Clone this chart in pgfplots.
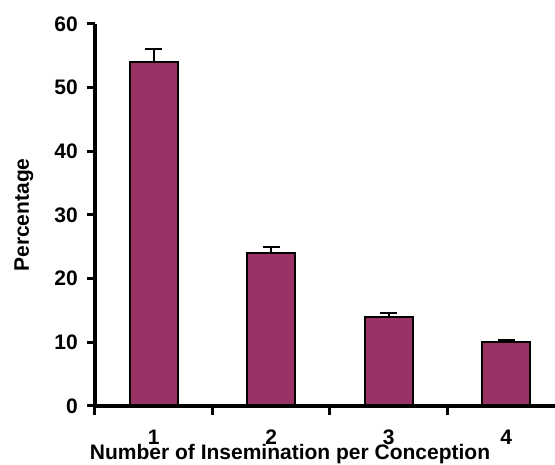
\documentclass[border=0pt]{standalone}
\usepackage{pgfplots}
\pgfplotsset{compat=1.18}
\usepackage{fontspec}
\setmainfont{Liberation Sans}
\definecolor{plum}{RGB}{153,51,102}
\begin{document}
\begin{tikzpicture}
\useasboundingbox (-95pt,-59pt) rectangle (460pt,406pt);
\begin{axis}[
    scale only axis,
    width=460pt, height=382pt,
    xmin=0.5, xmax=4.415,
    ymin=0, ymax=60,
    axis lines=left,
    axis line style={-, line width=3.5pt},
    axis on top,
    ytick={0,10,...,60},
    xtick={1,2,3,4},
    major x tick style={draw=none},
    minor xtick={0.5,1.5,2.5,3.5},
    tick align=outside,
    major tick length=8pt,
    minor tick length=9pt,
    every tick/.style={black, line width=3pt},
    /pgf/number format/assume math mode=true,
    ticklabel style={font=\bfseries\fontsize{21}{25}\selectfont},
    yticklabel style={anchor=east, inner sep=0pt, xshift=-9pt},
    xticklabel style={anchor=base, inner sep=0pt, yshift=-31pt},
    label style={font=\bfseries\fontsize{21}{25}\selectfont},
    xlabel={Number of Insemination per Conception},
    xlabel style={at={(axis description cs:0.424,0)}, anchor=base, inner sep=0pt, yshift=-54pt},
    ylabel={Percentage},
    ylabel style={at={(axis description cs:0,0.5)}, anchor=center, inner sep=0pt, yshift=71pt},
]
\addplot[ybar, bar width=48pt, fill=plum, draw=black, line width=2.2pt,
    error bars/.cd, y dir=plus, y explicit,
    error bar style={line width=2pt, black},
    error mark options={rotate=90, mark size=8.5pt, line width=2pt, black}]
    coordinates {(1,54) +- (0,2.0) (2,24) +- (0,0.9) (3,14) +- (0,0.6) (4,10) +- (0,0.4)};
\end{axis}
\end{tikzpicture}
\end{document}
